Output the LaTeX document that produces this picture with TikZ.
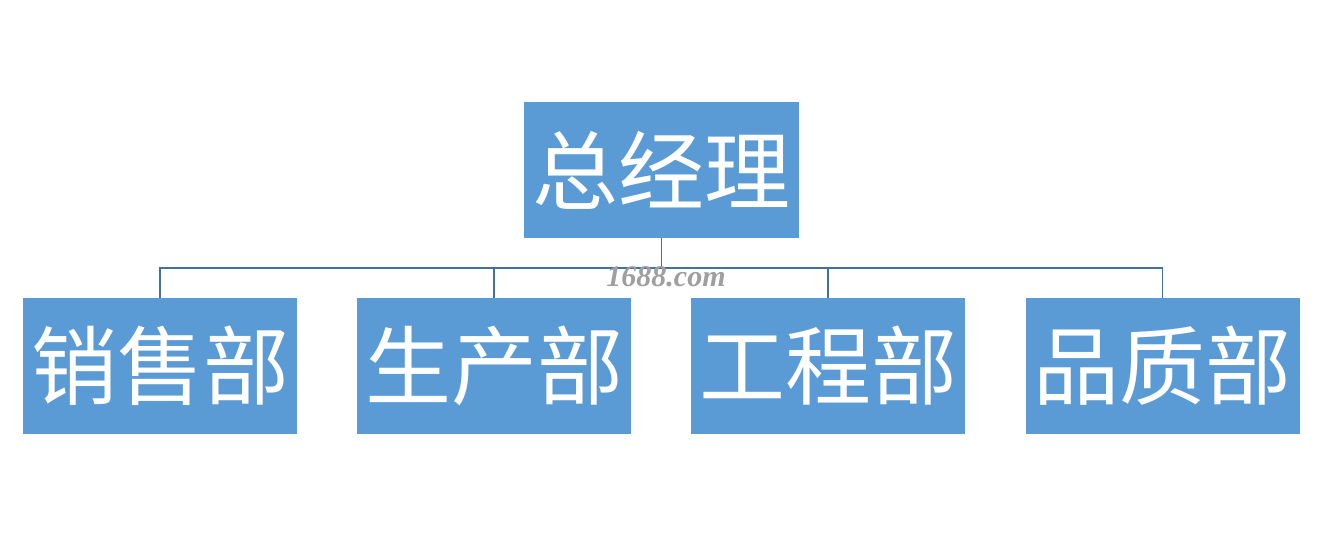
\documentclass[tikz,border=0pt]{standalone}
\usepackage{fontspec}
\newfontfamily\cjk{Noto Sans CJK SC}
\setmainfont{Liberation Serif}
\definecolor{boxblue}{HTML}{5B9BD5}
\definecolor{linecol}{HTML}{41719C}
\tikzset{
  orgbox/.style={fill=boxblue, draw=none, minimum width=274pt, minimum height=136pt, inner sep=0pt,
    text=white, font=\cjk\fontsize{86}{86}\selectfont},
  conn/.style={draw=linecol, line width=1.8pt}
}
\begin{document}
\begin{tikzpicture}[x=1pt,y=-1pt]
\useasboundingbox (0,0) rectangle (1331,547);
\fill[white] (0,0) rectangle (1331,547);
\node[orgbox, minimum width=275pt] (top) at (661.5,170) {总经理};
\node[orgbox] (b1) at (160,366) {销售部};
\node[orgbox] (b2) at (494,366) {生产部};
\node[orgbox] (b3) at (828,366) {工程部};
\node[orgbox] (b4) at (1162.5,366) {品质部};
\coordinate (bus) at (0,268);
\draw[conn] (top.south) -- (top.south |- bus);
\draw[conn] (b1.north) -- (b1.north |- bus) -- (b4.north |- bus) -- (b4.north);
\draw[conn] (b2.north) -- (b2.north |- bus);
\draw[conn] (b3.north) -- (b3.north |- bus);
\node[text=gray!75, font=\bfseries\itshape\fontsize{30}{30}\selectfont] (wm) at (666,277) {1688.com};
\end{tikzpicture}
\end{document}
